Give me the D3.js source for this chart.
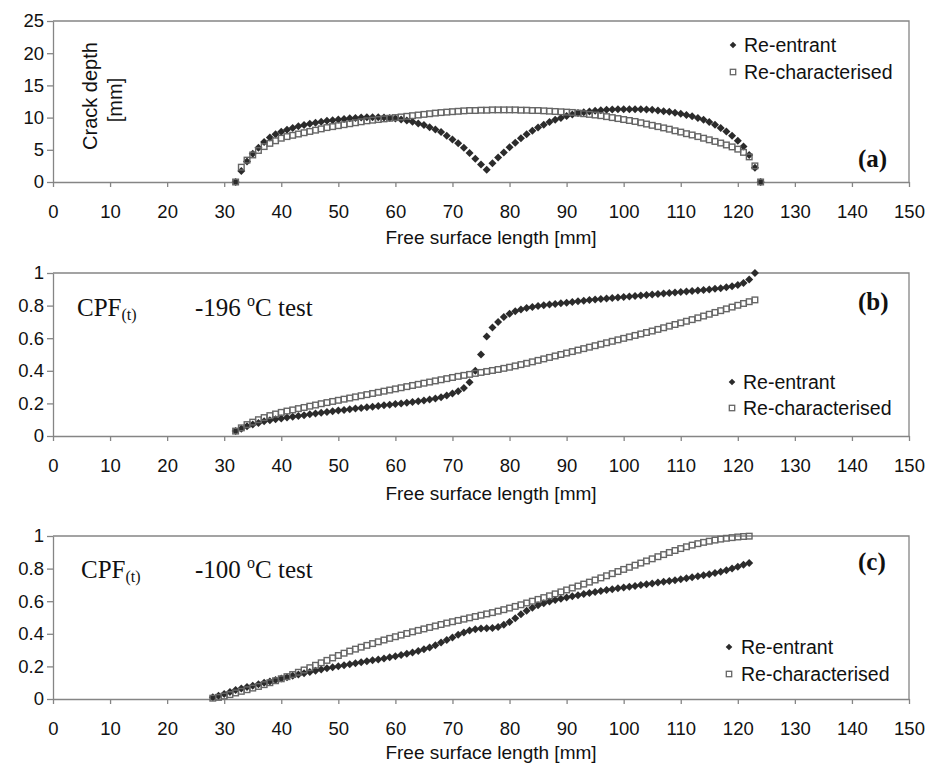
<!DOCTYPE html>
<html>
<head>
<meta charset="utf-8">
<script src="https://cdn.jsdelivr.net/npm/d3@7"></script>
<style>
    body { margin: 0; background: #fff; }
    svg text { font-family: "Liberation Sans", Arial, sans-serif; fill: #111; }
    svg .serif { font-family: "Liberation Serif", "Times New Roman", serif; }
    .tick text { font-size: 18.5px; }
</style>
</head>
<body>
<svg id="chart" width="928" height="765"></svg>
<script>
// Axis ticks
const xTicks = [0, 10, 20, 30, 40, 50, 60, 70, 80, 90, 100, 110, 120, 130, 140, 150];
const depthTicks = [0, 5, 10, 15, 20, 25];
const cpfTicks = [0, 0.2, 0.4, 0.6, 0.8, 1];
const seriesNames = ['Re-entrant', 'Re-characterised'];

// (a) crack depth [mm], one value per mm of free surface length from 32
const depthStart = 32;
const depthReentrant = [
    0, 1.7, 3.2, 4.4, 5.3, 6.2, 6.9, 7.4, 7.8, 8.1,
    8.4, 8.65, 8.85, 9.05, 9.2, 9.35, 9.5, 9.6, 9.7, 9.8,
    9.9, 9.95, 10.0, 10.05, 10.05, 10.05, 10.0, 9.95, 9.85, 9.7,
    9.55, 9.35, 9.1, 8.85, 8.5, 8.15, 7.75, 7.2, 6.6, 6.0,
    5.3, 4.5, 3.6, 2.7, 1.9, 2.9, 3.8, 4.6, 5.4, 6.1,
    6.8, 7.4, 7.95, 8.45, 8.9, 9.3, 9.65, 9.95, 10.25, 10.5,
    10.7, 10.85, 10.95, 11.05, 11.15, 11.2, 11.25, 11.3, 11.3, 11.3,
    11.3, 11.3, 11.25, 11.2, 11.1, 11.0, 10.9, 10.75, 10.6, 10.4,
    10.2, 9.95, 9.65, 9.3, 8.9, 8.4, 7.85, 7.2, 6.4, 5.5,
    4.2, 2.2, 0
];
const depthRechar = [
    0, 2.3, 3.4, 4.2, 4.9, 5.5, 6.0, 6.4, 6.8, 7.05,
    7.25, 7.45, 7.65, 7.85, 8.05, 8.25, 8.45, 8.6, 8.75, 8.9,
    9.05, 9.2, 9.35, 9.5, 9.6, 9.7, 9.8, 9.9, 10.0, 10.1,
    10.2, 10.3, 10.4, 10.5, 10.6, 10.7, 10.78, 10.85, 10.92, 10.98,
    11.05, 11.1, 11.1, 11.15, 11.15, 11.2, 11.2, 11.2, 11.2, 11.2,
    11.15, 11.15, 11.1, 11.1, 11.05, 11.0, 10.95, 10.9, 10.85, 10.8,
    10.7, 10.6, 10.5, 10.4, 10.3, 10.15, 10.0, 9.85, 9.7, 9.55,
    9.4, 9.2, 9.0, 8.8, 8.6, 8.4, 8.2, 7.95, 7.75, 7.5,
    7.3, 7.05, 6.8, 6.55, 6.3, 6.05, 5.75, 5.45, 5.1, 4.6,
    3.9, 2.5, 0
];

// (b) CPF(t), -196 C test, from 32 mm
const cpf196Start = 32;
const cpf196Reentrant = [
    0.03, 0.045, 0.06, 0.07, 0.08, 0.09, 0.097, 0.103, 0.108, 0.113,
    0.118, 0.123, 0.128, 0.133, 0.138, 0.143, 0.148, 0.152, 0.156, 0.16,
    0.164, 0.168, 0.172, 0.176, 0.18, 0.184, 0.188, 0.192, 0.196, 0.2,
    0.204, 0.208, 0.213, 0.218, 0.224, 0.23, 0.238, 0.248, 0.26, 0.275,
    0.295, 0.33, 0.4, 0.5, 0.61, 0.665, 0.7, 0.73, 0.75, 0.765,
    0.776, 0.785, 0.792, 0.797, 0.802, 0.806, 0.81, 0.814, 0.818, 0.822,
    0.826, 0.83, 0.834, 0.838, 0.841, 0.844, 0.847, 0.85, 0.853, 0.856,
    0.859, 0.862, 0.865, 0.868, 0.871, 0.874, 0.877, 0.88, 0.883, 0.886,
    0.889, 0.892, 0.895, 0.899, 0.903, 0.907, 0.912, 0.918, 0.926, 0.938,
    0.96, 1.0
];
const cpf196Rechar = [
    0.03, 0.05, 0.07, 0.085, 0.1, 0.113, 0.125, 0.135, 0.145, 0.153,
    0.16, 0.168, 0.175, 0.183, 0.19, 0.198, 0.205, 0.212, 0.219, 0.226,
    0.233, 0.24, 0.247, 0.254, 0.261, 0.268, 0.275, 0.282, 0.289, 0.296,
    0.303, 0.31, 0.317, 0.324, 0.331, 0.338, 0.345, 0.352, 0.359, 0.366,
    0.372, 0.378, 0.384, 0.39, 0.396, 0.402, 0.408, 0.415, 0.422, 0.43,
    0.438, 0.446, 0.455, 0.464, 0.473, 0.482, 0.491, 0.5, 0.509, 0.518,
    0.527, 0.536, 0.545, 0.554, 0.563, 0.572, 0.581, 0.59, 0.599, 0.608,
    0.617, 0.626, 0.635, 0.644, 0.654, 0.664, 0.674, 0.684, 0.694, 0.704,
    0.714, 0.725, 0.736, 0.747, 0.758, 0.769, 0.78, 0.791, 0.802, 0.813,
    0.824, 0.835
];

// (c) CPF(t), -100 C test, from 28 mm
const cpf100Start = 28;
const cpf100Reentrant = [
    0.01, 0.02, 0.03, 0.043, 0.055, 0.064, 0.073, 0.082, 0.091, 0.1,
    0.108, 0.117, 0.126, 0.134, 0.142, 0.15, 0.158, 0.166, 0.174, 0.181,
    0.188, 0.195, 0.201, 0.207, 0.213, 0.219, 0.225, 0.231, 0.237, 0.243,
    0.249, 0.256, 0.263, 0.27, 0.278, 0.286, 0.295, 0.305, 0.316, 0.33,
    0.346, 0.362, 0.378, 0.394, 0.408, 0.42, 0.428, 0.432, 0.434, 0.436,
    0.442, 0.455, 0.472, 0.495, 0.52, 0.542, 0.56, 0.575, 0.588, 0.598,
    0.607, 0.615, 0.623, 0.63, 0.637, 0.644, 0.65, 0.656, 0.662, 0.668,
    0.674, 0.679, 0.684, 0.689, 0.694, 0.699, 0.704, 0.709, 0.714, 0.719,
    0.724, 0.729, 0.735, 0.741, 0.747, 0.753, 0.759, 0.766, 0.773, 0.78,
    0.79, 0.801, 0.812, 0.823, 0.835
];
const cpf100Rechar = [
    0.005, 0.01, 0.018, 0.027, 0.037, 0.047, 0.057, 0.067, 0.077, 0.088,
    0.1, 0.112, 0.124, 0.137, 0.15, 0.164, 0.178, 0.192, 0.207, 0.222,
    0.237, 0.252, 0.267, 0.281, 0.294, 0.306, 0.318, 0.329, 0.34, 0.351,
    0.362, 0.372, 0.382, 0.392, 0.402, 0.412, 0.421, 0.43, 0.439, 0.448,
    0.457, 0.466, 0.474, 0.482, 0.49, 0.498, 0.506, 0.514, 0.522, 0.53,
    0.539, 0.548, 0.558, 0.568, 0.578, 0.589, 0.6, 0.611, 0.622, 0.633,
    0.645, 0.657, 0.669, 0.681, 0.693, 0.705, 0.717, 0.73, 0.743, 0.756,
    0.769, 0.782, 0.795, 0.808, 0.821, 0.834, 0.847, 0.86, 0.873, 0.886,
    0.899, 0.911, 0.923, 0.934, 0.944, 0.953, 0.961, 0.968, 0.975, 0.981,
    0.986, 0.99, 0.994, 0.997, 0.999
];

const svg = d3.select('#chart');
const left = 53, right = 909;
const gridColor = '#858585';

const x = d3.scaleLinear().domain([0, 150]).range([left, right]);

function toPoints(start, values) {
    return values.map((v, i) => ({ x: start + i, y: v }));
}

const panels = [
    {
        top: 21, bottom: 182, max: 25, ticks: depthTicks, fmt: d3.format('d'),
        start: depthStart, reentrant: depthReentrant, rechar: depthRechar,
        tag: '(a)', tagY: 167, titleY: 244,
        legend: { mx: 733, y1: 45, y2: 72, tx: 744 }
    },
    {
        top: 273, bottom: 436, max: 1, ticks: cpfTicks, fmt: d3.format('~g'),
        start: cpf196Start, reentrant: cpf196Reentrant, rechar: cpf196Rechar,
        tag: '(b)', tagY: 310, titleY: 500, cpf: { x: 77, y: 316, temp: '-196 ' },
        legend: { mx: 732, y1: 382, y2: 408, tx: 743 }
    },
    {
        top: 536, bottom: 699, max: 1, ticks: cpfTicks, fmt: d3.format('~g'),
        start: cpf100Start, reentrant: cpf100Reentrant, rechar: cpf100Rechar,
        tag: '(c)', tagY: 570, titleY: 759, cpf: { x: 81, y: 578, temp: '-100 ' },
        legend: { mx: 729, y1: 647, y2: 674, tx: 741 }
    }
];

function diamond(r) {
    return `M0,${-r}L${r},0L0,${r}L${-r},0Z`;
}

panels.forEach(p => {
    const y = d3.scaleLinear().domain([0, p.max]).range([p.bottom, p.top]);
    const g = svg.append('g');

    // plot frame (top and right)
    g.append('path')
        .attr('d', `M${left},${p.top}H${right}V${p.bottom}`)
        .attr('fill', 'none')
        .attr('stroke', gridColor)
        .attr('stroke-width', 1.3);

    const xAxis = g.append('g')
        .attr('transform', `translate(0,${p.bottom})`)
        .call(d3.axisBottom(x).tickValues(xTicks).tickSize(5).tickSizeOuter(0).tickPadding(18));
    const yAxis = g.append('g')
        .attr('transform', `translate(${left},0)`)
        .call(d3.axisLeft(y).tickValues(p.ticks).tickFormat(p.fmt).tickSize(6).tickSizeOuter(0).tickPadding(3));

    [xAxis, yAxis].forEach(a => {
        a.attr('font-family', null).attr('font-size', null);
        a.select('.domain').attr('stroke', gridColor).attr('stroke-width', 1.3);
        a.selectAll('.tick line').attr('stroke', gridColor).attr('stroke-width', 1.3);
    });

    g.append('text')
        .attr('x', 491)
        .attr('y', p.titleY)
        .attr('text-anchor', 'middle')
        .style('font-size', '19px')
        .text('Free surface length [mm]');

    // series: diamonds first, open squares on top
    g.append('g').selectAll('path')
        .data(toPoints(p.start, p.reentrant))
        .enter().append('path')
        .attr('d', diamond(4))
        .attr('transform', d => `translate(${x(d.x)},${y(d.y)})`)
        .attr('fill', '#2b2b2b');

    g.append('g').selectAll('rect')
        .data(toPoints(p.start, p.rechar))
        .enter().append('rect')
        .attr('x', d => x(d.x) - 2.8)
        .attr('y', d => y(d.y) - 2.8)
        .attr('width', 5.6)
        .attr('height', 5.6)
        .attr('fill', 'none')
        .attr('stroke', '#666')
        .attr('stroke-width', 1.4);

    // legend
    const L = p.legend;
    g.append('path')
        .attr('d', diamond(3.3))
        .attr('transform', `translate(${L.mx},${L.y1})`)
        .attr('fill', '#2b2b2b');
    g.append('rect')
        .attr('x', L.mx - 2.7).attr('y', L.y2 - 2.7)
        .attr('width', 5.4).attr('height', 5.4)
        .attr('fill', 'none').attr('stroke', '#666').attr('stroke-width', 1.3);
    [L.y1, L.y2].forEach((ly, i) => {
        g.append('text')
            .attr('x', L.tx)
            .attr('y', ly)
            .attr('dy', '0.36em')
            .style('font-size', '19.5px')
            .text(seriesNames[i]);
    });

    // panel tag
    g.append('text')
        .attr('class', 'serif')
        .attr('x', 858)
        .attr('y', p.tagY)
        .style('font-size', '25px')
        .style('font-weight', 'bold')
        .text(p.tag);

    if (p.cpf) {
        const t = g.append('text')
            .attr('class', 'serif')
            .attr('x', p.cpf.x)
            .attr('y', p.cpf.y)
            .style('font-size', '25px');
        t.append('tspan').text('CPF');
        t.append('tspan').attr('dy', 4).style('font-size', '16px').text('(t)');
        const t2 = g.append('text')
            .attr('class', 'serif')
            .attr('x', 195)
            .attr('y', p.cpf.y)
            .style('font-size', '25px');
        t2.append('tspan').text(p.cpf.temp);
        t2.append('tspan').attr('dy', -10).style('font-size', '16px').text('o');
        t2.append('tspan').attr('dy', 10).text('C test');
    } else {
        // y-axis title inside the plot area
        const yt = g.append('g').style('font-size', '20px');
        yt.append('text')
            .attr('transform', 'translate(97,96) rotate(-90)')
            .attr('text-anchor', 'middle')
            .text('Crack depth');
        yt.append('text')
            .attr('transform', 'translate(122,100) rotate(-90)')
            .attr('text-anchor', 'middle')
            .text('[mm]');
    }
});
</script>
</body>
</html>
